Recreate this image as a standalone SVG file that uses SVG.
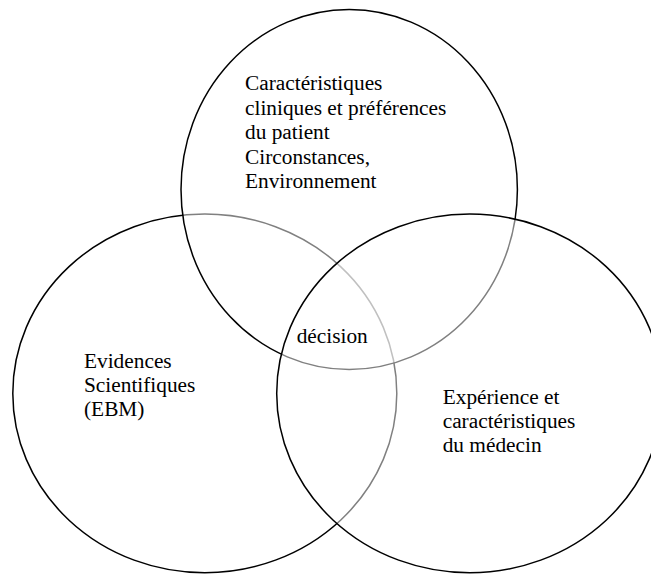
<svg xmlns="http://www.w3.org/2000/svg" width="651" height="574" viewBox="0 0 651 574">
  <style>
    .set { fill: #ffffff; fill-opacity: 0.5; stroke: #000000; stroke-width: 1.5; }
    .lbl { font-family: 'Liberation Serif', 'Times New Roman', Times, 'DejaVu Serif', serif; font-size: 21.33px; fill: #000000; }
  </style>
  <rect width="651" height="574" fill="#ffffff"/>
  <g id="evidences">
    <ellipse class="set" cx="204.8" cy="393.4" rx="192" ry="179.3"/>
    <text class="lbl" x="84" y="367.7">Evidences</text>
    <text class="lbl" x="84" y="391.7">Scientifiques</text>
    <text class="lbl" x="84" y="415.7">(EBM)</text>
  </g>
  <g id="patient">
    <ellipse class="set" cx="349.2" cy="189.5" rx="168.2" ry="180"/>
    <text class="lbl" x="245" y="90">Caractéristiques</text>
    <text class="lbl" x="245" y="114.5">cliniques et préférences</text>
    <text class="lbl" x="245" y="139">du patient</text>
    <text class="lbl" x="245" y="163.5">Circonstances,</text>
    <text class="lbl" x="245" y="188">Environnement</text>
  </g>
  <g id="medecin">
    <ellipse class="set" cx="469.7" cy="393.4" rx="193" ry="179.3"/>
    <text class="lbl" x="442.7" y="404.3">Expérience et</text>
    <text class="lbl" x="442.7" y="428.3">caractéristiques</text>
    <text class="lbl" x="442.7" y="452.3">du médecin</text>
  </g>
  <g id="decision">
    <text class="lbl" x="296.7" y="343.3">décision</text>
  </g>
  <g id="connectors"/>
</svg>
